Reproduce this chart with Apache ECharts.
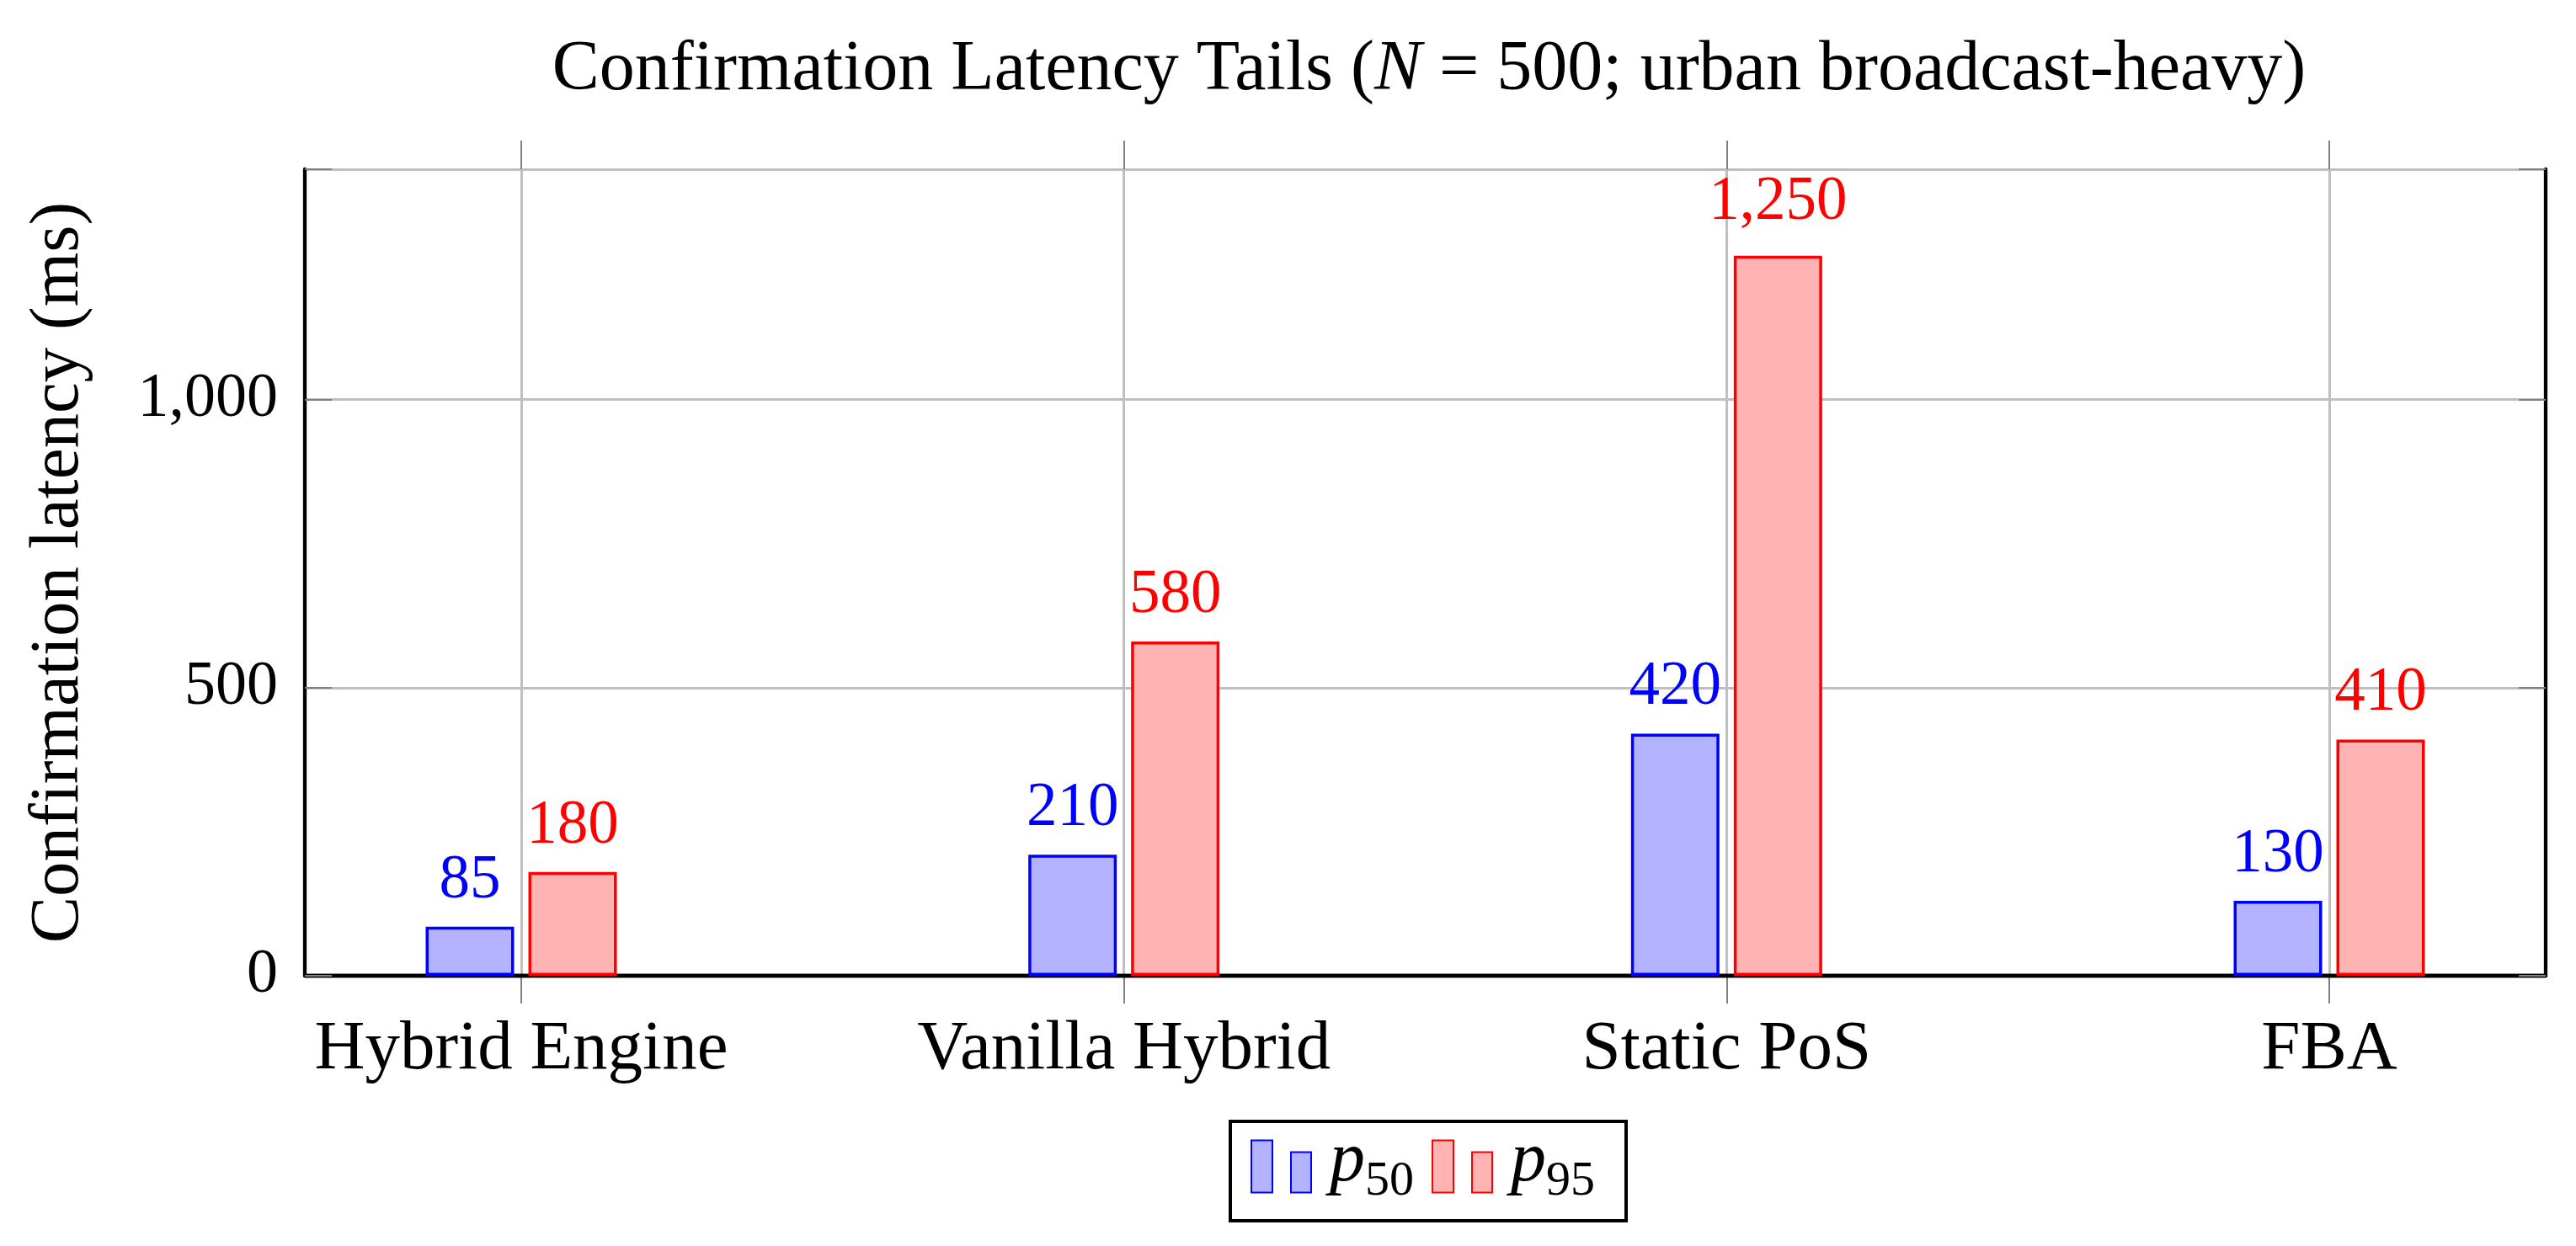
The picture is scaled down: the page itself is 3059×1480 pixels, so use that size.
<!DOCTYPE html>
<html>
<head>
<meta charset="utf-8">
<script src="https://cdn.jsdelivr.net/npm/echarts@6/dist/echarts.min.js"></script>
<style>
html,body{margin:0;padding:0;background:#fff;}
#chart{width:3059px;height:1480px;}
</style>
</head>
<body>
<div id="chart"></div>
<script>
const categories = ['Hybrid Engine', 'Vanilla Hybrid', 'Static PoS', 'FBA'];
const p50 = [85, 210, 420, 130];
const p95 = [180, 580, 1250, 410];
const seriesNames = ['p50', 'p95'];
const yMin = 0, yMax = 1400, yInterval = 500;
const titleText = 'Confirmation Latency Tails ({i|N} = 500; urban broadcast-heavy)';
const yAxisTitle = 'Confirmation latency (ms)';

const FONT = 'Liberation Serif';
const fmt = v => Number(v).toLocaleString('en-US');

const chart = echarts.init(document.getElementById('chart'), null, {renderer: 'canvas'});

function barLabel(color) {
  return {
    show: true, position: 'top', distance: 18,
    color: color, fontFamily: FONT, fontSize: 73,
    formatter: p => fmt(p.value)
  };
}

const frameLine = {show: true, lineStyle: {color: '#000', width: 4.3}};
const tickGray = '#808080';
const gridGray = '#bfbfbf';

const option = {
  backgroundColor: '#fff',
  animation: false,
  title: {
    text: titleText,
    left: 1692, top: 37, textAlign: 'center',
    textStyle: {
      fontFamily: FONT, fontSize: 84, fontWeight: 'normal', color: '#000',
      rich: {i: {fontFamily: FONT, fontSize: 84, fontStyle: 'italic', color: '#000'}}
    }
  },
  legend: {
    left: 1461, top: 1332,
    orient: 'horizontal',
    padding: [6, 37, 17, 24],
    borderColor: '#000', borderWidth: 4,
    itemGap: 21,
    itemWidth: 71, itemHeight: 62,
    icon: 'path://M0,0H25V62H0Z M47,14H71V62H47Z',
    data: seriesNames,
    formatter: name => '{p|' + name[0] + '}{s|' + name.slice(1) + '}',
    textStyle: {
      fontFamily: FONT, fontSize: 81, color: '#000',
      rich: {
        p: {fontFamily: FONT, fontSize: 84, fontStyle: 'italic', color: '#000', lineHeight: 84, verticalAlign: 'top', padding: [0, 0, 0, 17]},
        s: {fontFamily: FONT, fontSize: 58, color: '#000', lineHeight: 95, verticalAlign: 'bottom'}
      }
    }
  },
  grid: [
    {left: 362, top: 201, width: 2661, height: 958, show: false, outerBoundsMode: 'none', containLabel: false},
    {left: 619, top: 201, width: 2147, height: 958, show: false, outerBoundsMode: 'none', containLabel: false}
  ],
  xAxis: [
    {gridIndex: 0, type: 'value', min: 0, max: 1, position: 'bottom', z: 3,
     axisLine: frameLine, axisTick: {show: false}, axisLabel: {show: false}, splitLine: {show: false}},
    {gridIndex: 0, type: 'value', min: 0, max: 1, position: 'top', z: 3,
     axisLine: frameLine, axisTick: {show: false}, axisLabel: {show: false}, splitLine: {show: false}},
    {gridIndex: 1, type: 'category', data: categories, boundaryGap: false, position: 'bottom', z: 1,
     axisLine: {show: false},
     axisTick: {show: true, inside: false, length: 33, interval: 0, lineStyle: {color: tickGray, width: 2}},
     axisLabel: {show: true, interval: 0, margin: 47, fontFamily: FONT, fontSize: 83, color: '#000', hideOverlap: false},
     splitLine: {show: true, interval: 0, lineStyle: {color: gridGray, width: 3}}},
    {gridIndex: 1, type: 'category', data: categories, boundaryGap: false, position: 'top', z: 1,
     axisLine: {show: false},
     axisTick: {show: true, inside: false, length: 34, interval: 0, lineStyle: {color: tickGray, width: 2}},
     axisLabel: {show: false}, splitLine: {show: false}}
  ],
  yAxis: [
    {gridIndex: 0, type: 'value', min: yMin, max: yMax, interval: yInterval, position: 'left', z: 0,
     name: yAxisTitle, nameLocation: 'middle', nameGap: 250, nameMoveOverlap: false,
     nameTextStyle: {fontFamily: FONT, fontSize: 83, color: '#000'},
     axisLine: {show: false}, axisTick: {show: false},
     axisLabel: {show: true, margin: 32, fontFamily: FONT, fontSize: 74, color: '#000', showMaxLabel: false,
                 formatter: v => (v % yInterval === 0 ? fmt(v) : '')},
     splitLine: {show: true, lineStyle: {color: gridGray, width: 3}}},
    {gridIndex: 0, type: 'value', min: yMin, max: yMax, interval: yInterval, position: 'left', z: 3,
     axisLine: frameLine,
     axisTick: {show: true, inside: true, length: 32, lineStyle: {color: tickGray, width: 2}},
     axisLabel: {show: false}, splitLine: {show: false}},
    {gridIndex: 0, type: 'value', min: yMin, max: yMax, interval: yInterval, position: 'right', z: 3,
     axisLine: frameLine,
     axisTick: {show: true, inside: true, length: 32, lineStyle: {color: tickGray, width: 2}},
     axisLabel: {show: false}, splitLine: {show: false}},
    {gridIndex: 1, type: 'value', min: yMin, max: yMax, show: false}
  ],
  series: [
    {name: seriesNames[0], type: 'bar', xAxisIndex: 2, yAxisIndex: 3, z: 5,
     barWidth: 105, barGap: '16.2%',
     data: p50,
     itemStyle: {color: '#b3b3ff', borderColor: '#0000ff', borderWidth: 3.5},
     label: barLabel('#0000ff')},
    {name: seriesNames[1], type: 'bar', xAxisIndex: 2, yAxisIndex: 3, z: 5,
     barWidth: 105, barGap: '16.2%',
     data: p95.map(v => ({value: v, label: {distance: fmt(v).includes(',') ? 26 : 18}})),
     itemStyle: {color: '#ffb3b3', borderColor: '#ff0000', borderWidth: 3.5},
     label: barLabel('#ff0000')}
  ]
};
chart.setOption(option);
</script>
</body>
</html>
